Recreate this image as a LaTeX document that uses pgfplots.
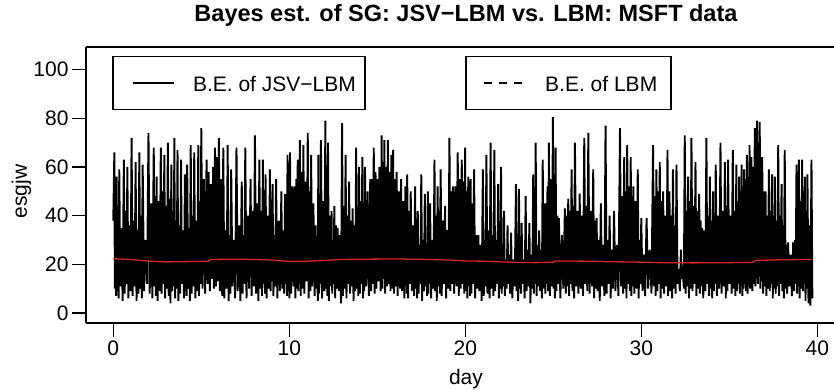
\documentclass[border=0pt]{standalone}
\usepackage{fontspec}
\setmainfont{Liberation Sans}
\usepackage{pgfplots}
\pgfplotsset{compat=1.18}
\definecolor{lbmred}{RGB}{220,35,35}
\newcommand{\fs}{\fontsize{21}{24}\selectfont}
\begin{document}
\begin{tikzpicture}
\begin{axis}[
  scale only axis, width=748pt, height=276pt,
  xmin=-1.55, xmax=40.95, ymin=-4.1, ymax=109.3,
  axis x line*=box, axis y line*=left,
  axis line style={line width=1.8pt},
  xtick={0,10,20,30,40}, ytick={0,20,40,60,80,100},
  xtick pos=bottom, ytick pos=left,
  tick align=outside, major tick length=14pt,
  every tick/.style={line width=1.5pt, black},
  /pgf/number format/assume math mode=true,
  tick label style={font=\fs},
  title={Bayes est. of SG: JSV−LBM vs. LBM: MSFT data},
  title style={at={([yshift=19pt]axis description cs:0.508,1)}, anchor=base, font=\bfseries\fontsize{23.5}{26}\selectfont},
  xlabel={day},
  xlabel style={at={([yshift=-61pt]axis description cs:0.508,0)}, anchor=base, font=\fs},
  ylabel={esgjw},
  ylabel style={at={([xshift=-59pt]axis description cs:0,0.476)}, rotate=0, anchor=base, font=\fs},
]
\addplot[black, line width=1.9pt] coordinates {
(0.00,38)
(0.06,66)(0.09,10)(0.12,38)(0.16,7)
(0.19,56)(0.23,9)(0.27,40)(0.30,6)
(0.34,59)(0.40,11)(0.47,35)(0.53,5)
(0.60,63)(0.65,8)(0.70,42)(0.75,12)
(0.80,60)(0.86,6)(0.92,36)(0.98,9)
(1.04,72)(1.10,7)(1.15,38)(1.21,11)
(1.27,62)(1.32,5)(1.37,34)(1.43,8)
(1.48,66)(1.53,10)(1.57,40)(1.62,6)
(1.67,61)(1.75,9)(1.83,30)(1.92,12)
(2.00,74)(2.07,8)(2.15,45)(2.22,6)
(2.30,68)(2.34,11)(2.38,48)(2.42,7)
(2.46,56)(2.52,5)(2.58,46)(2.64,9)
(2.70,68)(2.75,8)(2.80,50)(2.85,12)
(2.90,65)(2.95,6)(3.00,44)(3.05,10)
(3.10,70)(3.15,7)(3.20,47)(3.25,4)
(3.30,61)(3.34,9)(3.38,42)(3.43,11)
(3.47,72)(3.51,6)(3.56,38)(3.60,10)
(3.65,67)(3.70,5)(3.75,36)(3.80,8)
(3.85,63)(3.90,12)(3.96,34)(4.02,6)
(4.07,57)(4.10,9)(4.13,38)(4.17,7)
(4.20,61)(4.25,10)(4.30,35)(4.35,5)
(4.40,69)(4.45,8)(4.50,40)(4.55,11)
(4.60,66)(4.66,6)(4.72,38)(4.77,9)
(4.83,69)(4.87,7)(4.91,44)(4.96,12)
(5.00,76)(5.07,10)(5.15,55)(5.22,8)
(5.30,63)(5.36,12)(5.42,58)(5.49,9)
(5.55,53)(5.61,14)(5.67,60)(5.72,10)
(5.78,68)(5.83,11)(5.89,64)(5.94,13)
(6.00,72)(6.06,9)(6.12,55)(6.19,7)
(6.25,68)(6.31,6)(6.37,34)(6.44,10)
(6.50,69)(6.55,5)(6.60,32)(6.65,8)
(6.70,59)(6.77,11)(6.85,30)(6.92,6)
(7.00,68)(7.07,9)(7.15,36)(7.22,5)
(7.30,54)(7.35,8)(7.40,32)(7.45,12)
(7.50,68)(7.57,6)(7.65,40)(7.72,10)
(7.80,55)(7.86,7)(7.92,42)(7.99,11)
(8.05,73)(8.11,8)(8.17,45)(8.24,5)
(8.30,63)(8.35,10)(8.40,42)(8.45,7)
(8.50,63)(8.54,12)(8.58,44)(8.62,8)
(8.65,57)(8.71,6)(8.77,40)(8.84,10)
(8.90,59)(8.94,9)(8.98,36)(9.01,13)
(9.05,53)(9.10,7)(9.15,32)(9.20,11)
(9.25,55)(9.32,6)(9.40,38)(9.47,9)
(9.55,50)(9.60,10)(9.65,34)(9.71,8)
(9.76,49)(9.80,12)(9.83,40)(9.87,7)
(9.90,65)(9.94,9)(9.97,45)(10.01,6)
(10.04,66)(10.10,8)(10.17,52)(10.24,11)
(10.30,52)(10.35,6)(10.40,55)(10.44,10)
(10.48,63)(10.51,9)(10.54,56)(10.57,12)
(10.60,71)(10.65,7)(10.70,58)(10.75,10)
(10.80,69)(10.86,8)(10.92,54)(10.99,13)
(11.05,74)(11.10,6)(11.15,50)(11.20,9)
(11.24,65)(11.30,11)(11.37,45)(11.44,7)
(11.50,36)(11.54,10)(11.58,30)(11.62,5)
(11.65,65)(11.69,8)(11.72,42)(11.76,12)
(11.80,71)(11.86,6)(11.92,46)(11.99,9)
(12.05,79)(12.09,10)(12.12,48)(12.16,7)
(12.20,70)(12.25,5)(12.30,40)(12.35,11)
(12.40,42)(12.44,8)(12.48,30)(12.51,12)
(12.56,44)(12.61,6)(12.65,36)(12.70,10)
(12.75,35)(12.81,9)(12.87,32)(12.94,4)
(13.00,78)(13.05,7)(13.10,44)(13.15,10)
(13.20,65)(13.25,6)(13.30,40)(13.35,12)
(13.40,54)(13.45,8)(13.50,38)(13.55,11)
(13.60,43)(13.65,5)(13.70,36)(13.75,9)
(13.80,68)(13.84,10)(13.88,44)(13.92,7)
(13.96,60)(14.01,8)(14.06,46)(14.10,12)
(14.15,64)(14.19,6)(14.22,42)(14.26,9)
(14.30,60)(14.37,11)(14.45,50)(14.52,7)
(14.60,55)(14.65,9)(14.70,55)(14.75,12)
(14.80,68)(14.85,8)(14.90,58)(14.95,10)
(15.00,55)(15.06,13)(15.12,60)(15.19,9)
(15.25,73)(15.29,10)(15.33,62)(15.36,14)
(15.40,71)(15.45,8)(15.50,60)(15.55,11)
(15.60,71)(15.65,12)(15.70,58)(15.75,9)
(15.80,65)(15.83,10)(15.85,60)(15.88,13)
(15.90,67)(15.95,8)(16.00,55)(16.05,11)
(16.10,58)(16.16,7)(16.22,50)(16.29,10)
(16.35,55)(16.41,9)(16.47,46)(16.54,6)
(16.60,52)(16.63,11)(16.65,44)(16.68,8)
(16.70,57)(16.75,6)(16.80,42)(16.85,12)
(16.90,50)(16.96,9)(17.02,36)(17.09,7)
(17.15,52)(17.19,10)(17.22,30)(17.26,6)
(17.30,42)(17.35,8)(17.40,28)(17.45,12)
(17.50,57)(17.55,5)(17.60,30)(17.65,9)
(17.70,49)(17.74,11)(17.78,28)(17.83,7)
(17.87,50)(17.90,8)(17.93,26)(17.97,12)
(18.00,45)(18.06,6)(18.12,30)(18.19,10)
(18.25,63)(18.29,9)(18.34,40)(18.38,5)
(18.43,52)(18.47,11)(18.51,42)(18.55,8)
(18.60,59)(18.66,7)(18.72,38)(18.79,12)
(18.85,44)(18.91,6)(18.97,34)(19.04,10)
(19.10,72)(19.15,9)(19.20,50)(19.25,12)
(19.30,52)(19.37,8)(19.43,52)(19.50,11)
(19.57,66)(19.63,7)(19.68,55)(19.74,10)
(19.80,63)(19.85,12)(19.90,54)(19.94,8)
(19.99,68)(20.03,9)(20.07,50)(20.12,6)
(20.17,56)(20.20,11)(20.23,48)(20.27,7)
(20.30,55)(20.35,8)(20.40,45)(20.45,12)
(20.50,59)(20.56,6)(20.62,32)(20.68,10)
(20.74,32)(20.80,9)(20.87,28)(20.93,5)
(21.00,59)(21.05,7)(21.10,30)(21.15,11)
(21.20,65)(21.26,8)(21.32,34)(21.38,6)
(21.44,70)(21.49,10)(21.54,32)(21.60,7)
(21.65,67)(21.70,9)(21.76,30)(21.81,12)
(21.87,53)(21.91,6)(21.95,28)(21.99,10)
(22.03,60)(22.07,8)(22.11,24)(22.16,11)
(22.20,42)(22.25,7)(22.30,22)(22.35,10)
(22.40,36)(22.45,12)(22.50,24)(22.55,8)
(22.60,33)(22.67,6)(22.74,22)(22.81,11)
(22.88,53)(22.92,9)(22.96,25)(23.00,5)
(23.05,51)(23.09,10)(23.12,24)(23.16,8)
(23.20,37)(23.26,12)(23.32,22)(23.37,6)
(23.43,48)(23.48,9)(23.53,26)(23.59,11)
(23.64,37)(23.70,4)(23.75,24)(23.81,10)
(23.86,57)(23.90,8)(23.93,30)(23.97,12)
(24.00,70)(24.05,7)(24.10,28)(24.15,11)
(24.20,34)(24.25,9)(24.30,26)(24.35,6)
(24.40,63)(24.45,10)(24.50,45)(24.55,8)
(24.60,45)(24.64,12)(24.67,52)(24.71,9)
(24.75,70)(24.81,7)(24.87,55)(24.92,11)
(24.98,80.5)(25.02,10)(25.05,52)(25.09,6)
(25.13,68)(25.18,9)(25.23,40)(25.27,12)
(25.32,39)(25.40,6)(25.49,32)(25.57,10)
(25.66,43)(25.71,8)(25.76,40)(25.80,11)
(25.85,47)(25.90,7)(25.95,42)(25.99,12)
(26.04,59)(26.09,9)(26.14,44)(26.18,6)
(26.23,70)(26.30,11)(26.37,42)(26.43,8)
(26.50,49)(26.56,10)(26.63,40)(26.69,7)
(26.76,72)(26.82,12)(26.88,44)(26.93,9)
(26.99,74)(27.06,8)(27.13,42)(27.20,11)
(27.27,59)(27.32,6)(27.36,38)(27.41,10)
(27.46,39)(27.52,9)(27.58,30)(27.64,5)
(27.70,45)(27.77,11)(27.84,28)(27.90,7)
(27.97,77)(28.03,8)(28.09,30)(28.14,12)
(28.20,40)(28.26,6)(28.32,26)(28.39,10)
(28.45,42)(28.53,9)(28.62,28)(28.70,7)
(28.79,76)(28.85,11)(28.91,48)(28.97,8)
(29.03,64)(29.07,10)(29.11,50)(29.16,6)
(29.20,69)(29.25,12)(29.30,52)(29.35,9)
(29.40,64)(29.44,7)(29.48,48)(29.51,11)
(29.55,52)(29.61,8)(29.67,46)(29.74,10)
(29.80,59)(29.85,6)(29.90,30)(29.95,12)
(30.00,39)(30.07,9)(30.15,24)(30.22,7)
(30.30,39)(30.39,10)(30.48,26)(30.58,8)
(30.67,69)(30.72,11)(30.76,48)(30.81,7)
(30.86,59)(30.91,9)(30.95,50)(31.00,12)
(31.05,62)(31.10,6)(31.15,46)(31.19,10)
(31.24,50)(31.30,8)(31.37,40)(31.43,11)
(31.49,67)(31.52,7)(31.55,38)(31.57,12)
(31.60,50)(31.65,9)(31.70,40)(31.75,6)
(31.80,59)(31.85,10)(31.90,36)(31.95,8)
(32.00,61)(32.06,12)(32.12,18)(32.19,9)
(32.25,26)(32.30,14)(32.36,17)(32.42,10)
(32.47,73)(32.52,8)(32.56,42)(32.61,11)
(32.66,56)(32.71,6)(32.75,46)(32.80,10)
(32.85,72)(32.91,9)(32.97,44)(33.02,12)
(33.08,62)(33.13,7)(33.18,42)(33.24,10)
(33.29,49)(33.33,8)(33.37,38)(33.42,11)
(33.46,35)(33.52,6)(33.58,34)(33.64,9)
(33.70,72)(33.75,12)(33.80,40)(33.85,7)
(33.90,56)(33.94,10)(33.99,38)(34.03,6)
(34.08,50)(34.12,9)(34.16,36)(34.19,12)
(34.23,61)(34.30,7)(34.37,40)(34.43,10)
(34.50,70)(34.56,8)(34.62,42)(34.69,11)
(34.75,62)(34.80,6)(34.84,44)(34.89,9)
(34.93,63)(35.00,12)(35.07,40)(35.13,8)
(35.20,67)(35.25,10)(35.30,42)(35.35,7)
(35.40,61)(35.44,9)(35.48,46)(35.52,12)
(35.56,56)(35.60,8)(35.63,50)(35.67,11)
(35.70,61)(35.74,7)(35.77,52)(35.81,10)
(35.84,59)(35.88,12)(35.92,55)(35.96,9)
(36.00,65)(36.04,8)(36.08,56)(36.11,11)
(36.15,69)(36.18,10)(36.20,58)(36.23,13)
(36.26,64)(36.31,9)(36.36,60)(36.40,12)
(36.45,76)(36.48,11)(36.52,62)(36.55,14)
(36.58,79)(36.62,12)(36.65,70)(36.69,15)
(36.73,78.5)(36.77,10)(36.80,60)(36.84,13)
(36.87,64)(36.92,8)(36.97,50)(37.01,11)
(37.06,50)(37.11,7)(37.15,40)(37.20,10)
(37.25,59)(37.30,9)(37.34,42)(37.38,12)
(37.43,57)(37.47,6)(37.51,40)(37.55,10)
(37.59,56)(37.64,8)(37.68,38)(37.73,11)
(37.78,69)(37.83,7)(37.87,40)(37.92,12)
(37.97,53)(38.01,9)(38.06,36)(38.10,6)
(38.15,67)(38.20,10)(38.25,28)(38.29,8)
(38.34,29)(38.41,11)(38.48,24)(38.56,7)
(38.63,29)(38.68,9)(38.72,30)(38.77,12)
(38.82,61)(38.85,8)(38.88,42)(38.92,11)
(38.95,63)(39.00,6)(39.05,46)(39.09,10)
(39.14,63)(39.18,9)(39.22,44)(39.25,12)
(39.29,56)(39.33,5)(39.37,42)(39.40,10)
(39.44,57)(39.50,4)(39.56,36)(39.61,3)
(39.67,63)(39.72,6)
};
\addplot[lbmred, line width=1.3pt] coordinates {
(0,22.3)(1,22.0)(2,21.3)(3,21.0)(4,21.1)(5,21.2)(5.4,21.3)(5.5,22.0)(7,22.1)(8,22.0)(9,21.8)(10,21.2)(11,21.3)(12,21.6)(13,22.0)(14,22.1)(16,22.2)(18,22.0)(19,21.8)(20,21.4)(21,21.3)(22,21.0)(23,20.8)(24,20.7)(25,20.9)(25.1,21.4)(27,21.3)(28,21.1)(29,21.0)(30,20.9)(31,20.7)(33,20.6)(35,20.7)(36.3,20.8)(36.5,21.6)(38,21.9)(39.72,22.0)
};
% legend boxes
\draw[line width=1.4pt, fill=white] (axis cs:-0.02,83.7) rectangle (axis cs:14.3,105.5);
\draw[line width=1.6pt] (axis cs:1.1,94.4) -- (axis cs:3.45,94.4);
\node[anchor=base west, inner sep=0pt, font=\fs] at (axis cs:4.52,91.2) {B.E. of JSV−LBM};
\draw[line width=1.4pt, fill=white] (axis cs:20.03,83.7) rectangle (axis cs:31.68,105.5);
\draw[line width=1.6pt, dash pattern=on 8pt off 7pt] (axis cs:21.06,94.4) -- (axis cs:23.33,94.4);
\node[anchor=base west, inner sep=0pt, font=\fs] at (axis cs:24.53,91.2) {B.E. of LBM};
\end{axis}
\pgfresetboundingbox
\path[use as bounding box] ([xshift=-86pt,yshift=-67pt]current axis.south west) rectangle ([yshift=47pt]current axis.north east);
\end{tikzpicture}
\end{document}
